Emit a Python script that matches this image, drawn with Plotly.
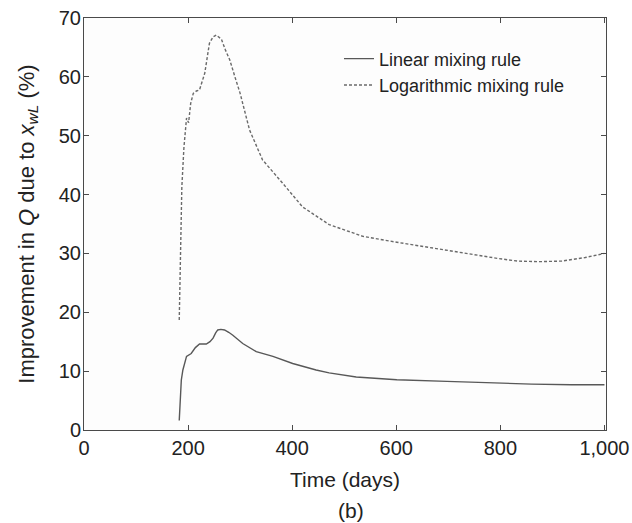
import plotly.graph_objects as go

# Logarithmic mixing rule (dashed curve)
log_days = [183, 185, 188, 192, 197, 201, 205, 210, 216, 222, 232, 241, 248, 254,
            259, 264, 272, 280, 290, 300, 318, 343, 382, 420, 471, 536, 601, 665,
            730, 795, 833, 875, 918, 963, 1000]
log_improvement = [18.7, 30.6, 41.3, 48.0, 53.0, 52.2, 55.5, 57.2, 57.6, 57.8, 60.6,
                   65.7, 66.8, 67.1, 66.8, 66.4, 64.5, 62.9, 60.0, 57.2, 51.0, 45.9,
                   41.9, 37.9, 34.9, 32.9, 31.9, 31.0, 30.0, 29.15, 28.7, 28.6, 28.7,
                   29.3, 30.0]

# Linear mixing rule (solid curve)
lin_days = [183, 185, 187, 190, 197, 206, 214, 222, 235, 242, 248, 253, 257, 263, 270,
            278, 286, 305, 331, 363, 401, 446, 471, 523, 601, 697, 795, 860, 937, 1000]
lin_improvement = [1.6, 6.0, 8.5, 10.2, 12.5, 13.0, 14.0, 14.6, 14.6, 15.0, 15.6, 16.5,
                   17.0, 17.1, 17.0, 16.6, 16.1, 14.7, 13.3, 12.5, 11.3, 10.2, 9.7, 9.0,
                   8.55, 8.26, 7.97, 7.8, 7.68, 7.68]

x_ticks = [0, 200, 400, 600, 800, 1000]
y_ticks = [0, 10, 20, 30, 40, 50, 60, 70]

FONT = "Liberation Sans, Arial, sans-serif"
AXIS_COLOR = "#4a4a4a"
TEXT_COLOR = "#222222"

fig = go.Figure()
fig.add_trace(go.Scatter(
    x=lin_days, y=lin_improvement, mode="lines", name="Linear mixing rule",
    line=dict(color="#585858", width=1.4),
))
fig.add_trace(go.Scatter(
    x=log_days, y=log_improvement, mode="lines", name="Logarithmic mixing rule",
    line=dict(color="#6a6a6a", width=1.4, dash="3px,2px"),
))

axis_common = dict(
    showline=True, linecolor=AXIS_COLOR, linewidth=1, mirror="ticks",
    ticks="inside", ticklen=5, tickcolor=AXIS_COLOR, tickwidth=1,
    showgrid=False, zeroline=False, automargin=False,
    tickfont=dict(family=FONT, size=20, color=TEXT_COLOR),
)

fig.update_layout(
    width=632, height=523,
    margin=dict(l=84, r=26, t=18, b=93),
    paper_bgcolor="white", plot_bgcolor="#fdfdfd",
    font=dict(family=FONT, size=18, color=TEXT_COLOR),
    showlegend=True,
    legend=dict(
        x=0.4885, y=0.9456, xanchor="left", yanchor="top",
        bgcolor="rgba(0,0,0,0)", borderwidth=0,
        font=dict(family=FONT, size=18, color=TEXT_COLOR),
        tracegroupgap=0,
    ),
    xaxis=dict(
        range=[0, 1003], tickvals=x_ticks, tickformat=",d",
        title=dict(text="Time (days)", font=dict(family=FONT, size=21), standoff=14),
        **axis_common,
    ),
    yaxis=dict(
        range=[0, 70], tickvals=y_ticks, ticklabelstandoff=-2,
        title=dict(text="Improvement in <i>Q</i> due to <i>x</i><sub><i>wL</i></sub> (%)",
                   font=dict(family=FONT, size=22), standoff=18),
        **axis_common,
    ),
    annotations=[dict(
        text="(b)", xref="paper", yref="paper", x=0.5115, y=-0.1966,
        xanchor="center", yanchor="middle", showarrow=False,
        font=dict(family=FONT, size=21, color=TEXT_COLOR),
    )],
)

fig.write_html("out.html")
